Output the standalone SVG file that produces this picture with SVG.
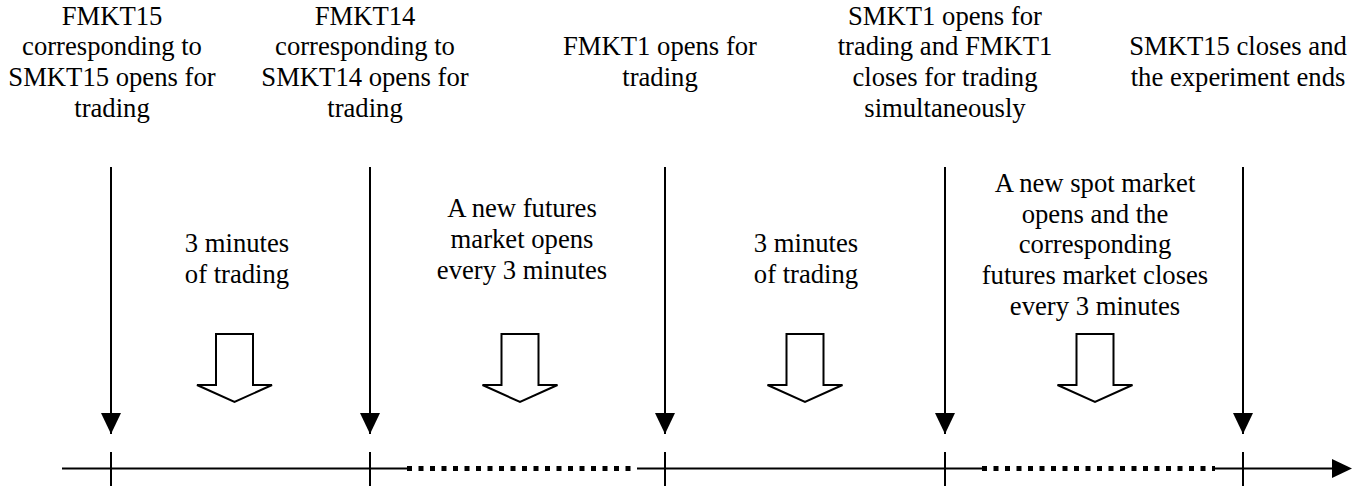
<svg xmlns="http://www.w3.org/2000/svg" width="1362" height="486" viewBox="0 0 1362 486">
<style>
text{font-family:"Liberation Serif","Times New Roman",serif;font-size:26.67px;fill:#000;text-anchor:middle}
.ln{stroke:#000;stroke-width:2;fill:none}
.dot{stroke:#000;stroke-width:5;stroke-dasharray:5 6.5;fill:none}
.blk{fill:#fff;stroke:#000;stroke-width:2;stroke-linejoin:miter}
</style>
<defs>
<marker id="ah" markerUnits="userSpaceOnUse" markerWidth="22" markerHeight="20" refX="21" refY="10" orient="auto" viewBox="0 0 22 20">
<path d="M0,0 L21,10 L0,20 Z" fill="#000"/>
</marker>
<path id="barrow" d="M-18.5,0 H18.5 V51 H37.5 L0,68 L-37.5,51 H-18.5 Z"/>
</defs>
<g font-family="Liberation Serif, Times New Roman, serif">
<g id="n1"><text x="112" y="24.5">FMKT15</text><text x="112" y="55.2">corresponding to</text><text x="112" y="85.8">SMKT15 opens for</text><text x="112" y="116.5">trading</text></g>
<g id="n2"><text x="365" y="24.5">FMKT14</text><text x="365" y="55.2">corresponding to</text><text x="365" y="85.8">SMKT14 opens for</text><text x="365" y="116.5">trading</text></g>
<g id="n3"><text x="660" y="55.2">FMKT1 opens for</text><text x="660" y="85.8">trading</text></g>
<g id="n4"><text x="945" y="24.5">SMKT1 opens for</text><text x="945" y="55.2">trading and FMKT1</text><text x="945" y="85.8">closes for trading</text><text x="945" y="116.5">simultaneously</text></g>
<g id="n5"><text x="1238" y="55.2">SMKT15 closes and</text><text x="1238" y="85.8">the experiment ends</text></g>
<g id="p1"><text x="237" y="252">3 minutes</text><text x="237" y="282.7">of trading</text><use href="#barrow" class="blk" x="234.5" y="334"/></g>
<g id="p2"><text x="522" y="217">A new futures</text><text x="522" y="248">market opens</text><text x="522" y="279">every 3 minutes</text><use href="#barrow" class="blk" x="520" y="334"/></g>
<g id="p3"><text x="806" y="252">3 minutes</text><text x="806" y="282.7">of trading</text><use href="#barrow" class="blk" x="805" y="334"/></g>
<g id="p4"><text x="1095" y="192">A new spot market</text><text x="1095" y="222.7">opens and the</text><text x="1095" y="253.3">corresponding</text><text x="1095" y="284">futures market closes</text><text x="1095" y="314.7">every 3 minutes</text><use href="#barrow" class="blk" x="1095" y="334"/></g>
</g>
<g id="connectors">
<line class="ln" x1="111" y1="167" x2="111" y2="434" marker-end="url(#ah)"/>
<line class="ln" x1="370" y1="167" x2="370" y2="434" marker-end="url(#ah)"/>
<line class="ln" x1="665" y1="167" x2="665" y2="434" marker-end="url(#ah)"/>
<line class="ln" x1="945" y1="167" x2="945" y2="434" marker-end="url(#ah)"/>
<line class="ln" x1="1243" y1="167" x2="1243" y2="434" marker-end="url(#ah)"/>
<path class="ln" d="M62,468.5 H407 M637,468.5 H982 M1215,468.5 H1334"/>
<path class="dot" d="M407,468.5 H637 M982,468.5 H1215"/>
<path d="M1332,459 L1352,468.5 L1332,478 Z" fill="#000"/>
<path class="ln" d="M111,452 V486 M370,452 V486 M665,452 V486 M945,452 V486 M1243,452 V486"/>
</g>
</svg>
